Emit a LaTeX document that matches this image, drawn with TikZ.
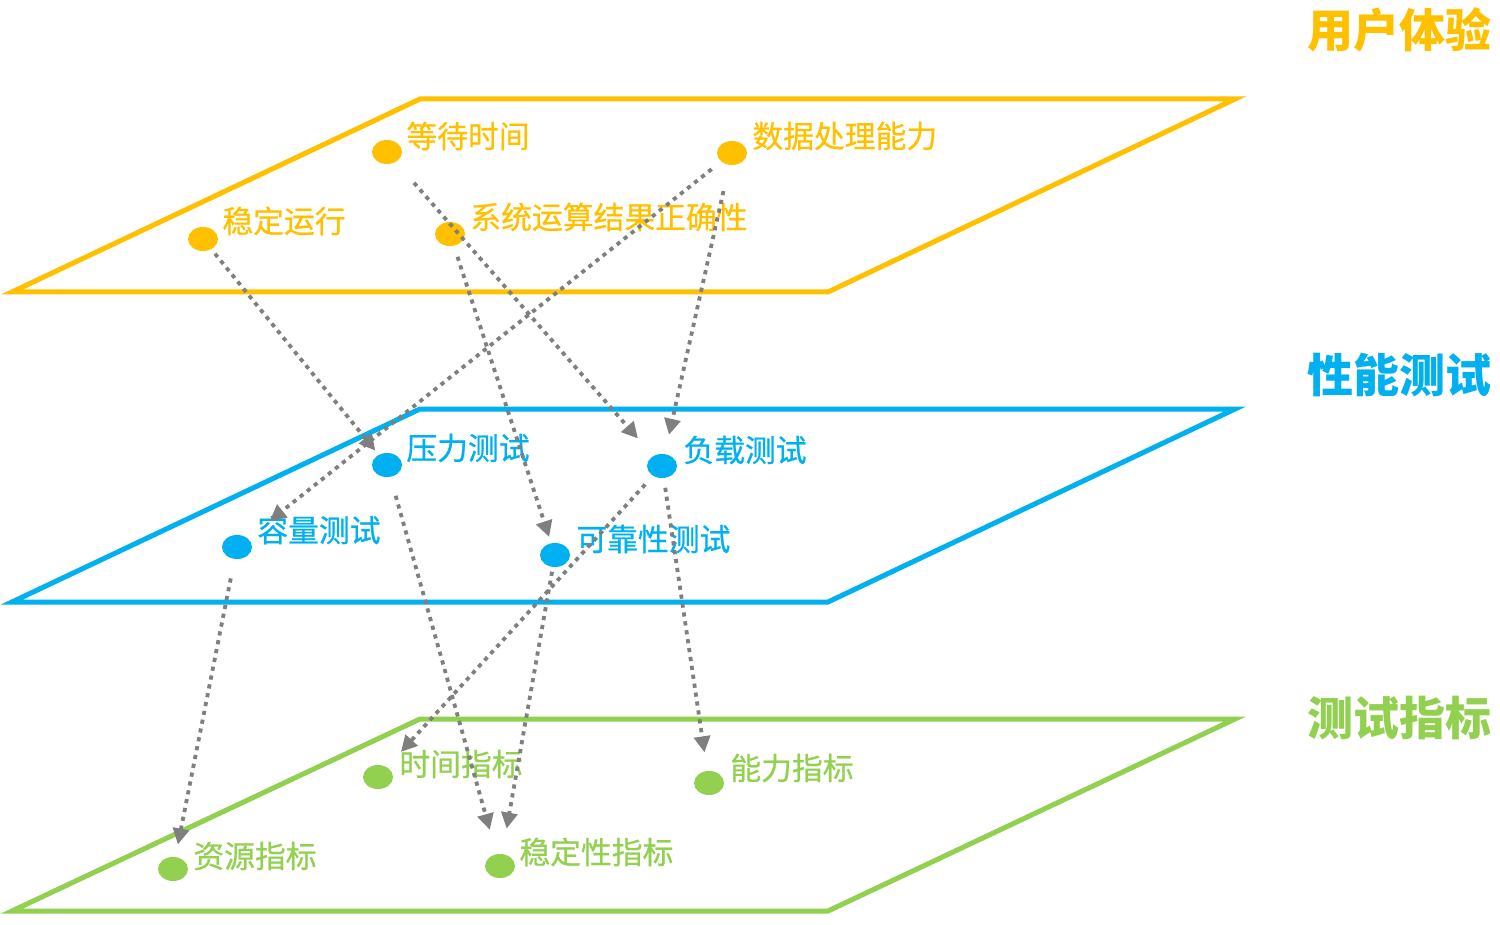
\documentclass[tikz,border=0pt]{standalone}
\usepackage{fontspec}
\setmainfont{Noto Sans CJK SC}
\newfontfamily\labelfont{Noto Sans CJK SC}[FakeBold=0.7]
\usetikzlibrary{arrows.meta,shapes.geometric}
\definecolor{ux}{HTML}{FFC000}
\definecolor{perf}{HTML}{00B0F0}
\definecolor{metric}{HTML}{92D050}
\definecolor{link}{HTML}{7F7F7F}
\begin{document}
\begin{tikzpicture}[x=0.5pt,y=-0.5pt,
  plane/.style={line width=2.5pt,line join=miter},
  dot/.style={shape=ellipse,fill=#1,draw=none,minimum width=15pt,minimum height=12pt,inner sep=0pt},
  lbl/.style={anchor=west,inner sep=0pt,text=#1,font=\labelfont\fontsize{15.4}{15.4}\selectfont},
  title/.style={anchor=east,inner sep=0pt,text=#1,font=\fontsize{23}{23}\selectfont\bfseries},
  flow/.style={draw=link,line width=1.9pt,dash pattern=on 2.1pt off 2.4pt,
    -{Triangle[length=8pt,width=8pt]}}]
\useasboundingbox (0,0) rectangle (1500,925);

% three layers
\draw[plane,ux]     (420,99)  -- (1235,99)  -- (828,292) -- (12,292) -- cycle;
\draw[plane,perf]   (420,409) -- (1235,409) -- (828,602) -- (12,602) -- cycle;
\draw[plane,metric] (420,719) -- (1235,719) -- (828,911) -- (12,911) -- cycle;

% layer titles
\node[title=ux]     (tux)   at (1492,30)  {用户体验};
\node[title=perf]   (tperf) at (1492,375) {性能测试};
\node[title=metric] (tmet)  at (1492,718) {测试指标};

% user experience layer
\node[dot=ux] (wait)  at (387,152) {};
\node[dot=ux] (data)  at (732,153) {};
\node[dot=ux] (stab)  at (203,239) {};
\node[dot=ux] (corr)  at (450,234) {};
\node[lbl=ux] (lwait) at (406,136) {等待时间};
\node[lbl=ux] (ldata) at (752,136) {数据处理能力};
\node[lbl=ux] (lstab) at (222,221) {稳定运行};
\node[lbl=ux] (lcorr) at (470,217) {系统运算结果正确性};

% performance test layer
\node[dot=perf] (press) at (387,465) {};
\node[dot=perf] (load)  at (662,466) {};
\node[dot=perf] (cap)   at (237,547) {};
\node[dot=perf] (rel)   at (555,555) {};
\node[lbl=perf] (lpress) at (406,448) {压力测试};
\node[lbl=perf] (lload)  at (683,450) {负载测试};
\node[lbl=perf] (lcap)   at (257,530) {容量测试};
\node[lbl=perf] (lrel)   at (576,539) {可靠性测试};

% metric layer
\node[dot=metric] (time)  at (378,777) {};
\node[dot=metric] (abil)  at (709,783) {};
\node[dot=metric] (res)   at (173,869) {};
\node[dot=metric] (stbm)  at (500,866) {};
\node[lbl=metric] (ltime) at (399,764) {时间指标};
\node[lbl=metric] (labil) at (730,768) {能力指标};
\node[lbl=metric] (lres)  at (193,856) {资源指标};
\node[lbl=metric] (lstbm) at (519,852) {稳定性指标};

% dependencies between layers
\draw[flow,shorten <=9.5pt,shorten >=9.3pt]  (stab.center)  -- (press.center);
\draw[flow,shorten <=20.5pt,shorten >=18.3pt](wait.center)  -- (load.center);
\draw[flow,shorten <=13pt,shorten >=21pt]    (data.center)  -- (cap.center);
\draw[flow,shorten <=19.5pt,shorten >=16pt]  (data.center)  -- (load.center);
\draw[flow,shorten <=12pt,shorten >=9.5pt]   (corr.center)  -- (rel.center);
\draw[flow,shorten <=16pt,shorten >=18.8pt]  (press.center) -- (stbm.center);
\draw[flow,shorten <=12.5pt,shorten >=17pt]  (load.center)  -- (time.center);
\draw[flow,shorten <=11pt,shorten >=15.5pt]  (load.center)  -- (abil.center);
\draw[flow,shorten <=16pt,shorten >=12.5pt]  (cap.center)   -- (res.center);
\draw[flow,shorten <=8.5pt,shorten >=19pt]   (rel.center)   -- (stbm.center);
\end{tikzpicture}
\end{document}
